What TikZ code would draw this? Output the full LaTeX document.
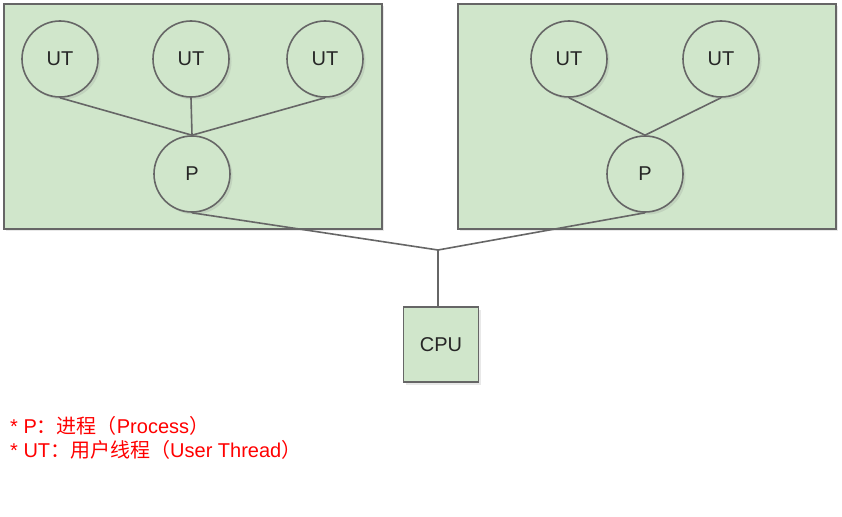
\documentclass[tikz,border=0pt]{standalone}
\usepackage{fontspec}
\setmainfont{Liberation Sans}
\newfontfamily\cjk{Noto Sans CJK SC}
\usetikzlibrary{shadows}
\definecolor{boxfill}{HTML}{D0E6CB}
\definecolor{linegray}{HTML}{666666}
\begin{document}
\begin{tikzpicture}[x=1pt,y=-1pt,
  shade/.style={drop shadow={opacity=0.18,shadow xshift=2.5pt,shadow yshift=-2.5pt}},
  group/.style={draw=linegray,line width=1.6pt,fill=boxfill,shade},
  thread/.style={circle,draw=linegray,line width=1.6pt,fill=boxfill,minimum size=76pt,inner sep=0pt,font=\fontsize{20}{22}\selectfont,text=black!85,shade},
  cpubox/.style={rectangle,draw=linegray,line width=1.6pt,fill=boxfill,minimum size=75pt,inner sep=0pt,font=\fontsize{20}{22}\selectfont,text=black!85,shade},
  link/.style={draw=linegray,line width=1.6pt},
  legend/.style={anchor=west,text=red,font=\fontsize{20}{22}\selectfont,inner sep=0pt}]
\useasboundingbox (0,0) rectangle (842,516);
\fill[white] (0,0) rectangle (842,516);
% process boxes
\node[group,rectangle,anchor=north west,minimum width=378pt,minimum height=225pt,inner sep=0pt] (boxL) at (3,3) {};
\node[group,rectangle,anchor=north west,minimum width=378pt,minimum height=225pt,inner sep=0pt] (boxR) at (457,3) {};
% left process
\node[thread] (ut1) at (60,59) {UT};
\node[thread] (ut2) at (191,59) {UT};
\node[thread] (ut3) at (325,59) {UT};
\node[thread] (p1) at (192,174) {P};
% right process
\node[thread] (ut4) at (569,59) {UT};
\node[thread] (ut5) at (721,59) {UT};
\node[thread] (p2) at (645,174) {P};
% cpu
\node[cpubox] (cpu) at (441,344.5) {CPU};
\coordinate (junc) at (438,250);
% links
\draw[link] (ut1.south) -- (p1.north);
\draw[link] (ut2.south) -- (p1.north);
\draw[link] (ut3.south) -- (p1.north);
\draw[link] (ut4.south) -- (p2.north);
\draw[link] (ut5.south) -- (p2.north);
\draw[link] (p1.south) -- (junc);
\draw[link] (p2.south) -- (junc);
\draw[link] (junc) -- (cpu.north -| junc);
% legend
\node[legend] (leg1) at (10,426) {* P{\cjk ：进程（}Process{\cjk ）}};
\node[legend] (leg2) at (10,450) {* UT{\cjk ：用户线程（}User Thread{\cjk ）}};
\end{tikzpicture}
\end{document}
